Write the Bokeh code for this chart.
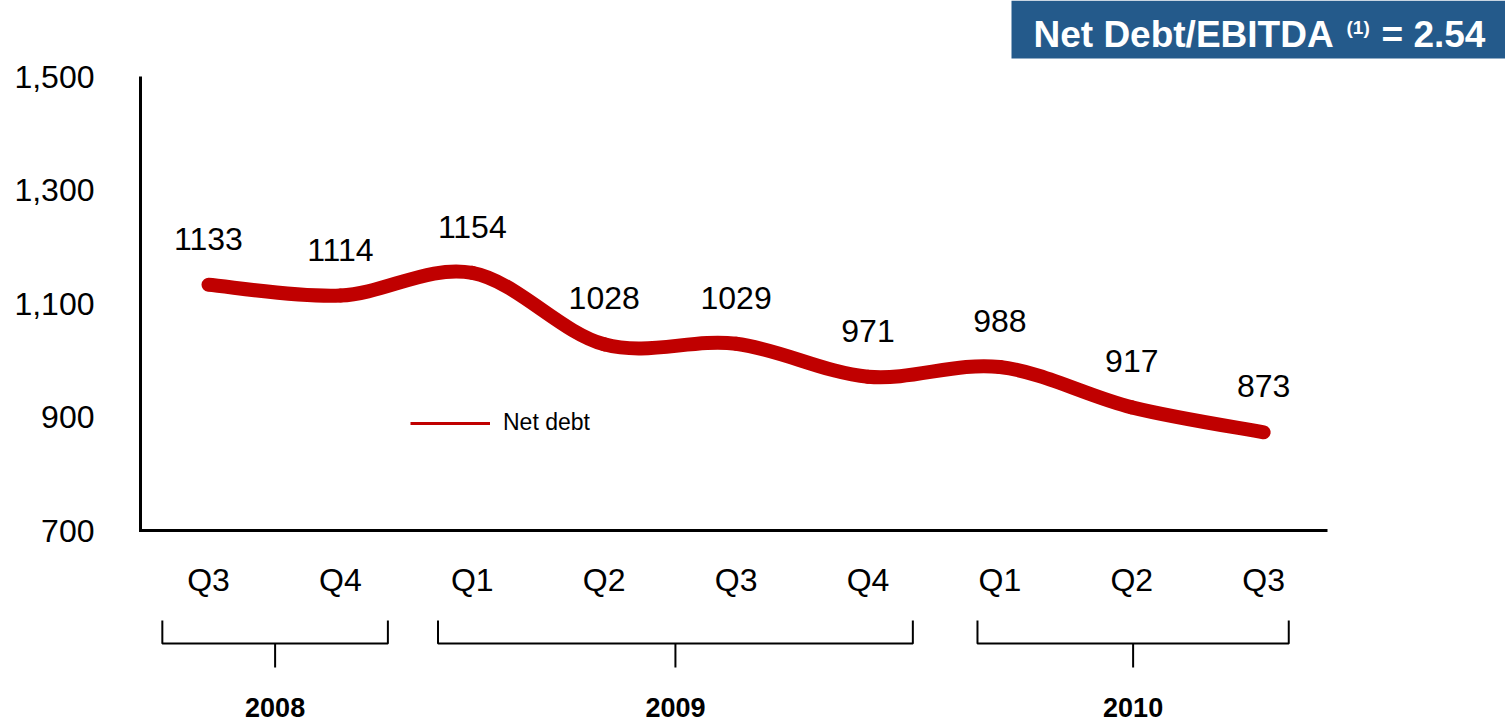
from bokeh.plotting import figure
from bokeh.models import Range1d, FixedTicker, NumeralTickFormatter, Legend, LegendItem
from bokeh.layouts import column
from bokeh.embed import file_html
from bokeh.resources import INLINE
from bokeh.core.properties import value

# ---------------- data ----------------
quarters = ["Q3", "Q4", "Q1", "Q2", "Q3", "Q4", "Q1", "Q2", "Q3"]
years = ["2008", "2009", "2010"]
quarters_per_year = [2, 4, 3]
net_debt = [1133, 1114, 1154, 1028, 1029, 971, 988, 917, 873]
y_ticks = [700, 900, 1100, 1300, 1500]
series_name = "Net debt"
ratio_text = "Net Debt/EBITDA"
ratio_note = "(1)"
ratio_value = "= 2.54"

# ---------------- layout / style ----------------
FONT = "Liberation Sans"
RED = "#C00000"
BLUE = "#245A8B"
W = 1505
H_MAIN = 610
H_BOT = 115
FR_LEFT = 137          # frame left edge (px)
FR_BOT = 532           # frame bottom edge (px)
AX_X = 140             # y-axis line position (px)
AX_RIGHT = 1327        # end of x-axis line (px)
Y_TOP_PX, Y_BOT_PX = 76, 530   # pixel rows of 1500 and 700
X0_PX, DX_PX = 208, 131.9      # pixel of first category, category spacing

n = len(net_debt)
xs = list(range(n))
ppu = (Y_BOT_PX - Y_TOP_PX) / (y_ticks[-1] - y_ticks[0])

x_start = -(X0_PX - FR_LEFT) / DX_PX
x_end = (W - X0_PX) / DX_PX
y_end = y_ticks[-1] + Y_TOP_PX / ppu
y_start = y_ticks[0] - (FR_BOT - Y_BOT_PX) / ppu
xr = Range1d(x_start, x_end)

# ---------------- main chart ----------------
p = figure(width=W, frame_width=W - FR_LEFT, frame_height=FR_BOT, x_range=xr,
           y_range=Range1d(y_start, y_end),
           min_border_left=FR_LEFT, min_border_right=0, min_border_top=0,
           min_border_bottom=H_MAIN - FR_BOT,
           output_backend="svg", toolbar_location=None, outline_line_color=None)
p.grid.visible = False
p.extra_x_ranges = {"px": Range1d(FR_LEFT, W)}
p.extra_y_ranges = {"px": Range1d(FR_BOT, 0)}

for ax in (p.xaxis[0], p.yaxis[0]):
    ax.axis_line_color = None
    ax.major_tick_line_color = None
    ax.minor_tick_line_color = None
    ax.major_label_text_font = FONT
    ax.major_label_text_font_size = "32px"
    ax.major_label_text_color = "black"

p.xaxis.ticker = FixedTicker(ticks=xs)
p.xaxis.major_label_overrides = {i: q for i, q in enumerate(quarters)}
p.xaxis.major_label_standoff = 23
p.yaxis.ticker = FixedTicker(ticks=y_ticks)
p.yaxis.formatter = NumeralTickFormatter(format="0,0")
p.yaxis.major_label_standoff = 37

# axis lines (L-shape)
p.line(x=[AX_X, AX_X, AX_RIGHT], y=[Y_TOP_PX, Y_BOT_PX, Y_BOT_PX],
       x_range_name="px", y_range_name="px", line_color="black", line_width=3,
       line_join="miter")

# title box
p.quad(left=[1011], right=[W], top=[0], bottom=[58], x_range_name="px", y_range_name="px",
       fill_color=BLUE, line_color=None)
p.text(x=[1033], y=[34], text=[ratio_text], x_range_name="px", y_range_name="px",
       text_color="white", text_font=value(FONT), text_font_size="37px",
       text_font_style="bold", text_baseline="middle", text_align="left")
p.text(x=[1346], y=[27], text=[ratio_note], x_range_name="px", y_range_name="px",
       text_color="white", text_font=value(FONT), text_font_size="19px",
       text_font_style="bold", text_baseline="middle", text_align="left")
p.text(x=[1381], y=[34], text=[ratio_value], x_range_name="px", y_range_name="px",
       text_color="white", text_font=value(FONT), text_font_size="37px",
       text_font_style="bold", text_baseline="middle", text_align="left")

# smooth curve through the data (Catmull-Rom -> cubic Bezier)
def pt(i):
    i = max(0, min(n - 1, i))
    return xs[i], net_debt[i]

bx0, by0, bx1, by1, c0x, c0y, c1x, c1y = [], [], [], [], [], [], [], []
for i in range(n - 1):
    xa, ya = pt(i)
    xb, yb = pt(i + 1)
    xp, yp = pt(i - 1)
    xn, yn = pt(i + 2)
    bx0.append(xa); by0.append(ya); bx1.append(xb); by1.append(yb)
    c0x.append(xa + (xb - xp) / 6.0); c0y.append(ya + (yb - yp) / 6.0)
    c1x.append(xb - (xn - xa) / 6.0); c1y.append(yb - (yn - ya) / 6.0)

p.bezier(x0=bx0, y0=by0, x1=bx1, y1=by1, cx0=c0x, cy0=c0y, cx1=c1x, cy1=c1y,
         line_color=RED, line_width=14, line_cap="round")

p.text(x=xs, y=net_debt, text=[str(v) for v in net_debt], y_offset=-46,
       text_align="center", text_baseline="middle", text_font=value(FONT),
       text_font_size="32px", text_color="black")

legend_line = p.line(x=xs, y=net_debt, line_color=RED, line_width=3, visible=False)
legend = Legend(items=[LegendItem(label=series_name, renderers=[legend_line])],
                location=(273, 96), border_line_color=None, background_fill_alpha=0,
                padding=0, margin=0, spacing=0, glyph_width=80, glyph_height=26,
                label_height=26, label_standoff=13, label_text_font=FONT,
                label_text_font_size="23px", label_text_color="black")
p.add_layout(legend)

# ---------------- year brackets ----------------
bracket_pad_left = [0.35, 0.26, 0.17]
bracket_pad_right = [0.36, 0.34, 0.19]

bot = figure(width=W, frame_width=W - FR_LEFT, frame_height=H_BOT, x_range=xr,
             y_range=Range1d(H_BOT, 0),
             min_border_left=FR_LEFT, min_border_right=0, min_border_top=0, min_border_bottom=0,
             x_axis_type=None, y_axis_type=None,
             output_backend="svg", toolbar_location=None, outline_line_color=None)
bot.grid.visible = False

br_xs, br_ys, mid = [], [], []
start = 0
for k, cnt in enumerate(quarters_per_year):
    s = start - bracket_pad_left[k]
    e = start + cnt - 1 + bracket_pad_right[k]
    br_xs.append([s, s, e, e])
    br_ys.append([10, 33, 33, 10])
    mid.append((s + e) / 2.0)
    start += cnt
bot.multi_line(xs=br_xs, ys=br_ys, line_color="black", line_width=2)
bot.segment(x0=mid, y0=[33] * len(mid), x1=mid, y1=[57] * len(mid), line_color="black", line_width=2)
bot.text(x=mid, y=[97] * len(mid), text=years, text_align="center", text_baseline="middle",
         text_font=value(FONT), text_font_size="27px", text_font_style="bold", text_color="black")

layout = column(p, bot, spacing=0)
open("out.html", "w").write(file_html(layout, INLINE))
